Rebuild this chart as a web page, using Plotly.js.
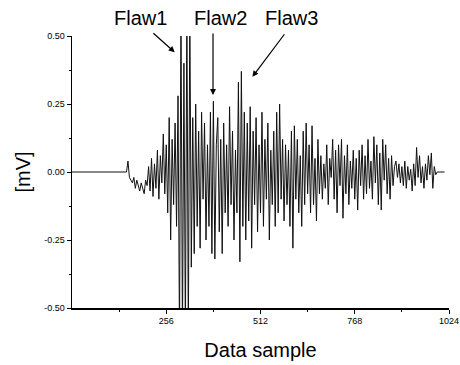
<!DOCTYPE html>
<html>
<head>
<meta charset="utf-8">
<script src="https://cdn.plot.ly/plotly-3.0.1.min.js"></script>
<style>html,body{margin:0;padding:0;background:#fff;}#chart{width:460px;height:365px;}</style>
</head>
<body>
<div id="chart"></div>
<script>
// Signal samples (every 4th data sample from 148 to 1000), values in mV
const sampleStart = 148;
const sampleStep = 4;
const signalValues = [
  // 148-252
  0.0, 0.04, -0.02, -0.03, -0.04, -0.02, -0.06, -0.03, -0.05, -0.07, -0.04, -0.06, -0.08, -0.03,
  -0.05, 0.02, -0.07, 0.05, -0.09, 0.03, -0.06, 0.08, -0.1, 0.06, -0.04, 0.14, -0.08,
  // 256-290
  0.1, -0.15, 0.2, -0.25, 0.12, -0.12, 0.18, -0.2, 0.28,
  // Flaw1 294-326 (clipped)
  -0.62, 0.62, -0.62, 0.4, -0.62, 0.62, -0.62, 0.62, -0.35,
  // 330-380
  0.2, -0.3, 0.25, -0.2, 0.15, -0.28, 0.22, -0.1, 0.18, -0.25, 0.1, -0.2, 0.22, -0.3,
  // Flaw2 384-392
  0.26, -0.32, 0.1,
  // 396-452
  0.2, -0.22, 0.12, -0.3, 0.18, -0.15, 0.1, -0.2, 0.24, -0.12, 0.15, -0.25, 0.08, -0.15, 0.33,
  // Flaw3 456-464
  -0.33, 0.37, -0.2,
  // 468-560
  0.22, -0.25, 0.18, -0.18, 0.24, -0.28, 0.15, -0.12, 0.2, -0.22, 0.1, -0.15, 0.22, -0.2, 0.12,
  -0.1, 0.18, -0.25, 0.08, -0.12, 0.15, -0.2, 0.22, -0.15,
  // 564-660
  0.25, -0.1, 0.12, -0.18, 0.1, -0.12, 0.08, -0.2, 0.15, -0.28, 0.17, -0.1, 0.12, -0.15, 0.06,
  -0.2, 0.15, -0.12, 0.18, -0.08, 0.1, -0.15, 0.17, -0.12, 0.05,
  // 664-780
  -0.18, 0.12, -0.08, 0.06, -0.1, 0.03, -0.06, 0.1, -0.12, 0.05, -0.02, 0.12, -0.1, 0.08, -0.15,
  0.1, -0.05, 0.12, -0.17, 0.06, -0.08, 0.1, -0.12, 0.04, -0.06, 0.08, -0.1, 0.05, -0.14,
  // 784-880
  0.08, -0.05, 0.1, -0.1, 0.06, -0.08, 0.12, -0.06, 0.04, -0.1, 0.13, -0.04, 0.1, -0.12, 0.07,
  -0.14, 0.12, -0.03, 0.1, -0.08, 0.05, -0.1, 0.06, -0.05, 0.02,
  // 884-1000
  0.04, -0.02, 0.03, -0.04, 0.02, -0.05, 0.04, -0.06, 0.02, -0.03, 0.01, -0.07, 0.03, -0.05, 0.09,
  -0.02, 0.06, -0.04, 0.02, -0.06, 0.03, -0.03, 0.06, -0.01, 0.07, -0.06, 0.02, -0.01, 0.0
];
// quiet baseline before and after the signal
const baselineSamples = [0, 140];
const baselineValues = [0, 0];
const tailSamples = [1000, 1012];
const tailValues = [0, 0];

const xTickVals = [256, 512, 768, 1024];
const xTickText = ['256', '512', '768', '1024'];
const yTickVals = [-0.5, -0.25, 0, 0.25, 0.5];
const yTickText = ['-0.50', '-0.25', '0.00', '0.25', '0.50'];
const flawLabels = ['Flaw1', 'Flaw2', 'Flaw3'];

const sx = signalValues.map((v, i) => sampleStart + i * sampleStep);
const allX = baselineSamples.concat(sx, tailSamples);
const allY = baselineValues.concat(signalValues, tailValues);

const trace = {
  x: allX, y: allY, type: 'scatter', mode: 'lines',
  line: {color: '#111', width: 1}, cliponaxis: true, hoverinfo: 'skip'
};

const font = {family: 'Liberation Sans, Arial, sans-serif', color: '#000'};
const tf = Object.assign({size: 20}, font);
const ann = [
  // texts
  {xref:'paper', yref:'paper', x:0.183, y:1.066, text:flawLabels[0], showarrow:false, font:tf, xanchor:'center', yanchor:'middle'},
  {xref:'paper', yref:'paper', x:0.395, y:1.066, text:flawLabels[1], showarrow:false, font:tf, xanchor:'center', yanchor:'middle'},
  {xref:'paper', yref:'paper', x:0.583, y:1.066, text:flawLabels[2], showarrow:false, font:tf, xanchor:'center', yanchor:'middle'},
  // arrows
  {xref:'x', yref:'y', axref:'x', ayref:'y', x:279, y:0.44, ax:217, ay:0.515, text:'', showarrow:true, arrowhead:2, arrowsize:1, arrowwidth:1.2, arrowcolor:'#000'},
  {xref:'x', yref:'y', axref:'x', ayref:'y', x:383, y:0.283, ax:383, ay:0.515, text:'', showarrow:true, arrowhead:2, arrowsize:1, arrowwidth:1.2, arrowcolor:'#000'},
  {xref:'x', yref:'y', axref:'x', ayref:'y', x:490, y:0.35, ax:580, ay:0.512, text:'', showarrow:true, arrowhead:2, arrowsize:1, arrowwidth:1.2, arrowcolor:'#000'}
];

const layout = {
  width: 460, height: 365,
  margin: {l: 72, r: 11, t: 36, b: 57},
  paper_bgcolor: '#fff', plot_bgcolor: '#fff',
  showlegend: false,
  font: font,
  xaxis: {
    range: [0, 1024], showgrid: false, zeroline: false,
    showline: true, linecolor: '#000', linewidth: 1.5,
    ticks: 'outside', ticklen: 4, tickwidth: 1, tickcolor: '#000',
    tickvals: xTickVals, ticktext: xTickText,
    tickfont: Object.assign({size: 9}, font),
    minor: {tickvals: [128, 384, 640, 896], ticks: 'outside', ticklen: 2, tickcolor: '#000'},
    title: {text: 'Data sample', font: Object.assign({size: 20}, font), standoff: 17}
  },
  yaxis: {
    range: [-0.5, 0.5], showgrid: false, zeroline: false,
    showline: true, linecolor: '#000', linewidth: 1.5,
    ticks: 'outside', ticklen: 4, tickwidth: 1, tickcolor: '#000',
    tickvals: yTickVals, ticktext: yTickText,
    tickfont: Object.assign({size: 9}, font),
    minor: {tickvals: [-0.375, -0.125, 0.125, 0.375], ticks: 'outside', ticklen: 2, tickcolor: '#000'},
    title: {text: '[mV]', font: Object.assign({size: 20}, font), standoff: 8}
  },
  annotations: ann
};

Plotly.newPlot('chart', [trace], layout, {displayModeBar: false, staticPlot: true});
</script>
</body>
</html>
